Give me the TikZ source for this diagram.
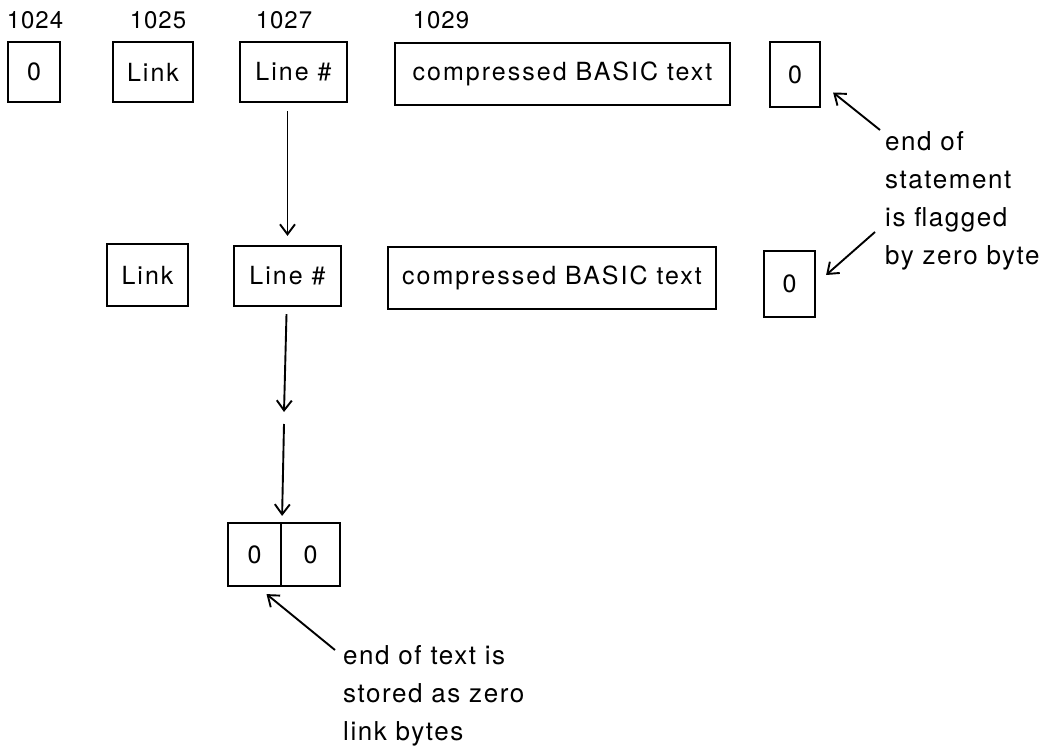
\documentclass[tikz,border=0pt]{standalone}
\usepackage{fontspec}
\setmainfont{TeX Gyre Heros}
\usetikzlibrary{arrows.meta}
\begin{document}
\begin{tikzpicture}[x=1pt,y=-1pt,
  cell/.style={draw,line width=2.2pt,inner sep=0pt,font=\fontsize{25}{28}\selectfont\addfontfeature{LetterSpace=8}},
  addr/.style={font=\fontsize{24}{28}\selectfont\addfontfeature{LetterSpace=4},inner sep=0pt},
  note/.style={font=\fontsize{26}{38}\selectfont\addfontfeature{LetterSpace=6},align=left,inner sep=0pt,anchor=north west},
  arr/.style={line width=1.9pt,-{Straight Barb[length=10pt,width=15pt,line width=1.9pt]}}]
\useasboundingbox (0,0) rectangle (1043,751);
% addresses
\node[addr] (a1024) at (35,20) {1024};
\node[addr] (a1025) at (158,20) {1025};
\node[addr] (a1027) at (284,20) {1027};
\node[addr] (a1029) at (441,20) {1029};
% row 1
\node[cell,minimum width=52pt,minimum height=60pt] (z0) at (34,72) {0};
\node[cell,minimum width=80pt,minimum height=60pt] (l1) at (153,72) {Link};
\node[cell,minimum width=107pt,minimum height=60pt] (n1) at (293.5,72) {Line \#};
\node[cell,minimum width=335pt,minimum height=62pt] (c1) at (562.5,74) {compressed BASIC text};
\node[cell,minimum width=50pt,minimum height=65pt] (e1) at (795,74.5) {0};
% row 2
\node[cell,minimum width=81pt,minimum height=62pt] (l2) at (147.5,275) {Link};
\node[cell,minimum width=107pt,minimum height=60pt] (n2) at (287.5,276) {Line \#};
\node[cell,minimum width=328pt,minimum height=62pt] (c2) at (552,278) {compressed BASIC text};
\node[cell,minimum width=51pt,minimum height=66pt] (e2) at (789.5,284) {0};
% end
\node[cell,minimum width=53pt,minimum height=63pt] (f1) at (254.5,554.5) {0};
\node[cell,minimum width=59pt,minimum height=63pt] (f2) at (310.5,554.5) {0};
\coordinate (gap1) at (284,412);
\coordinate (gap2) at (284,424);
% arrows
\draw[arr] ([xshift=-6pt,yshift=-8pt]n1.south) -- ([yshift=9pt]n2.north);
\draw[arr] ([xshift=-1pt,yshift=-7pt]n2.south) -- (gap1);
\draw[arr] (gap2) -- ([yshift=6pt]f1.north east);
% notes
\node[note] (t1) at (885,131) {end of\\statement\\is flagged\\by zero byte};
\node[note] (t2) at (343,645) {end of text is\\stored as zero\\link bytes};
\coordinate (s1) at (880,130);
\coordinate (s2) at (875,232);
\coordinate (s3) at (335,650);
\draw[arr] (s1) -- ([shift={(12pt,-18pt)}]e1.north east |- e1.east);
\draw[arr] (s2) -- ([xshift=10pt,yshift=9pt]e2.east);
\draw[arr] (s3) -- ([xshift=12pt,yshift=-7pt]f1.south);
\end{tikzpicture}
\end{document}
